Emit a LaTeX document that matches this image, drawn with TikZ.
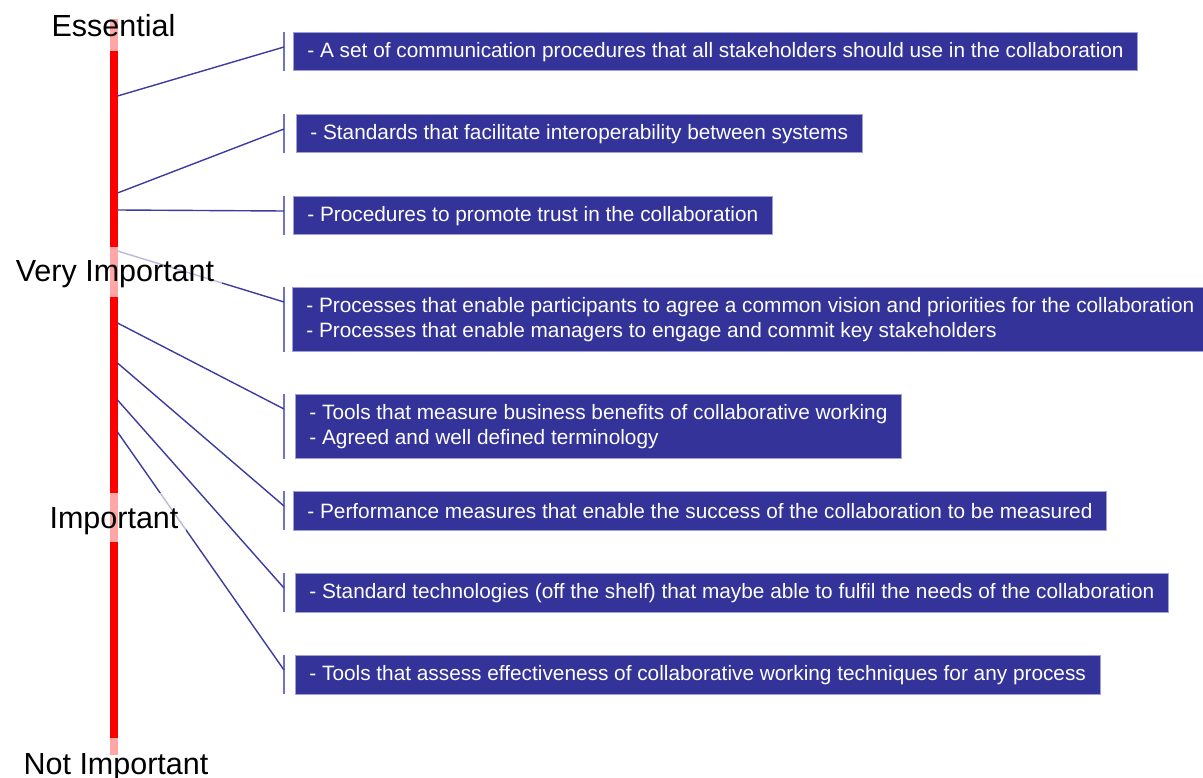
\documentclass[tikz,border=0pt]{standalone}
\usepackage{fontspec}
\setmainfont{Liberation Sans}
\usetikzlibrary{calc, positioning}
\definecolor{boxblue}{HTML}{333399}
\definecolor{boxedge}{HTML}{A0A0D8}
\definecolor{linkblue}{HTML}{3C3CA0}
\definecolor{tickblue}{HTML}{7272C4}

\begin{document}
\begin{tikzpicture}[
    x=1pt, y=-1pt,    % 1 unit = 1 px of the slide, y downwards
    itembox/.style={draw=boxedge, line width=0.8pt, fill=boxblue, text=white,
        anchor=north west, inner xsep=14pt, inner ysep=0pt,
        minimum height=38.5pt, align=left,
        font=\fontsize{20.8}{24.5}\selectfont},
    connector/.style={linkblue, line width=1.4pt},
    tickline/.style={tickblue, line width=1.4pt},
    level/.style={fill=white, fill opacity=0.65, text opacity=1, anchor=base,
        inner xsep=8pt, inner ysep=0pt, font=\fontsize{30.5}{36}\selectfont},
]
\useasboundingbox (0,0) rectangle (1203,778);

% ── Importance scale ─────────────────────────────────────────────────────────
\fill[red] (110,19) rectangle (117.5,755);

% points where the connectors leave the scale
\foreach \n/\y in {1/96, 2/193, 3/210, 4/251, 5/323, 6/363, 7/400, 8/432}
    \coordinate (s\n) at (117.5,\y);
\coordinate (tk) at (284,0);  % x of the bracket ticks

% ── Requirement boxes ────────────────────────────────────────────────────────
\node[itembox] (b1) at (293,32)
    {- A set of communication procedures that all stakeholders should use in the collaboration};
\node[itembox] (b2) at (296,114)
    {- Standards that facilitate interoperability between systems};
\node[itembox] (b3) at (293,196)
    {- Procedures to promote trust in the collaboration};
\node[itembox, minimum height=64pt] (b4) at (292,287)
    {- Processes that enable participants to agree a common vision and priorities for the collaboration\\
     - Processes that enable managers to engage and commit key stakeholders};
\node[itembox, minimum height=64pt] (b5) at (295,394)
    {- Tools that measure business benefits of collaborative working\\
     - Agreed and well defined terminology};
\node[itembox] (b6) at (293,491)
    {- Performance measures that enable the success of the collaboration to be measured};
\node[itembox] (b7) at (295,573)
    {- Standard technologies (off the shelf) that maybe able to fulfil the needs of the collaboration};
\node[itembox] (b8) at (295,655)
    {- Tools that assess effectiveness of collaborative working techniques for any process};

% ── Ticks and connectors ─────────────────────────────────────────────────────
\foreach \n in {1,...,8} {
    \draw[tickline] (b\n.north west -| tk) -- (b\n.south west -| tk);
    \draw[connector] (s\n) -- ($(b\n.north west -| tk)+(0,15)$);
}

% ── Scale labels (half-transparent backing over the bar) ─────────────────────
\node[level, text height=18pt, text depth=14pt] (ess) at (113.5,37) {Essential};
\node[level, text height=35pt, text depth=15pt] (vimp) at (115,282) {Very Important};
\node[level, text height=35pt, text depth=14pt] (imp) at (114,528) {Important};
\node[level, text height=36pt, text depth=4pt] (nimp) at (116,774) {Not Important};

\end{tikzpicture}
\end{document}
